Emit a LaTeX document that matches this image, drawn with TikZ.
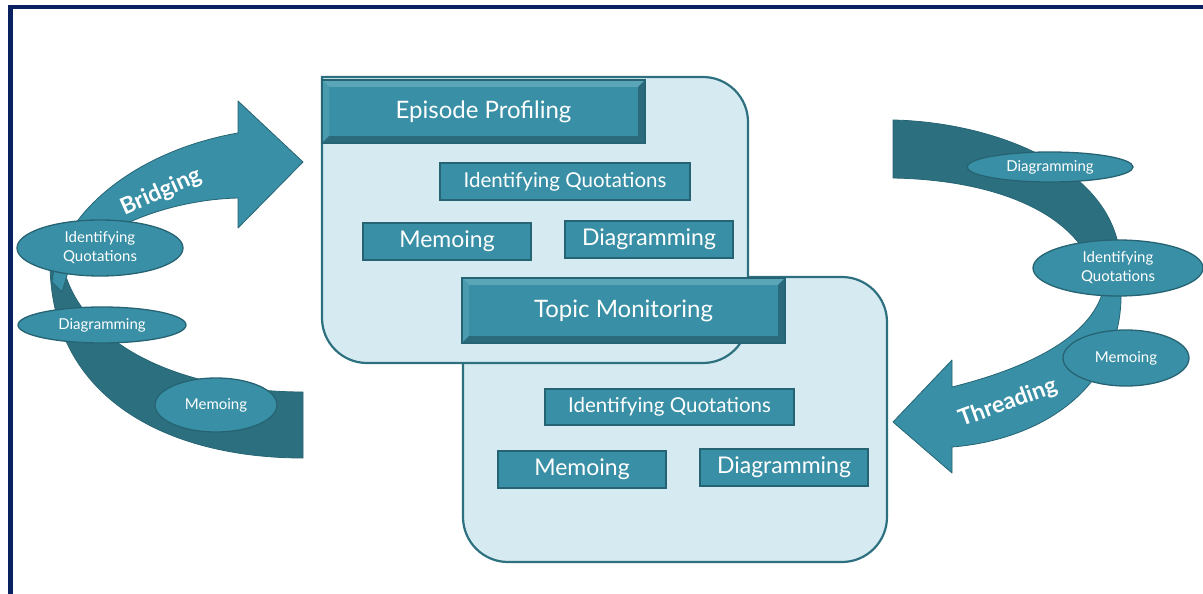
\documentclass[tikz,border=0pt]{standalone}
\usepackage{fontspec}
\setmainfont{Lato}
\usetikzlibrary{shapes.geometric}
\definecolor{tealmain}{HTML}{398FA5}
\definecolor{tealdark}{HTML}{2C7080}
\definecolor{tealline}{HTML}{266473}
\definecolor{bevlight}{HTML}{5AA6B8}
\definecolor{bevmid}{HTML}{4A9BAE}
\definecolor{bevdark}{HTML}{2A6A7A}
\definecolor{boxfill}{HTML}{D6EBF1}
\definecolor{boxline}{HTML}{2D7080}
\definecolor{navy}{HTML}{0A2160}
\tikzset{
  hdr/.style={draw=tealline, line width=1.2pt, fill=tealmain, minimum width=323pt,
    minimum height=64pt, inner sep=0pt, text=white, font=\fontsize{24}{28}\selectfont,
    path picture={
      \fill[bevlight] (path picture bounding box.north west) -- (path picture bounding box.north east)
        -- ([shift={(-7pt,-7pt)}]path picture bounding box.north east)
        -- ([shift={(7pt,-7pt)}]path picture bounding box.north west) -- cycle;
      \fill[bevmid] (path picture bounding box.north west) -- ([shift={(7pt,-7pt)}]path picture bounding box.north west)
        -- ([shift={(7pt,7pt)}]path picture bounding box.south west)
        -- (path picture bounding box.south west) -- cycle;
      \fill[bevdark] (path picture bounding box.north east) -- (path picture bounding box.south east)
        -- ([shift={(-7pt,7pt)}]path picture bounding box.south east)
        -- ([shift={(-7pt,-7pt)}]path picture bounding box.north east) -- cycle;
      \fill[bevdark] (path picture bounding box.south west) -- (path picture bounding box.south east)
        -- ([shift={(-7pt,7pt)}]path picture bounding box.south east)
        -- ([shift={(7pt,7pt)}]path picture bounding box.south west) -- cycle;
    }},
  ibox/.style={draw=tealline, line width=1.5pt, fill=tealmain, minimum height=37pt,
    inner sep=0pt, text=white, font=\fontsize{23}{27}\selectfont},
  iboxs/.style={ibox, font=\fontsize{20.5}{24}\selectfont},
  ell/.style={ellipse, draw=tealline, line width=1.3pt, fill=tealmain, inner sep=0pt,
    text=white, align=center, font=\fontsize{15}{19}\selectfont},
  container/.style={draw=boxline, line width=2.2pt, fill=boxfill},
  bandlight/.style={fill=tealmain, draw=tealline, line width=0.8pt, line join=round},
  banddark/.style={fill=tealdark, draw=tealline, line width=0.8pt, line join=round},
  arrowlabel/.style={text=white, font=\fontsize{23}{27}\selectfont\bfseries, inner sep=0pt}
}
\begin{document}
\begin{tikzpicture}[x=1pt, y=-1pt]
\useasboundingbox (0,0) rectangle (1203,594);
% frame
\draw[navy, line width=4.5pt] (10.5,594) -- (10.5,7) -- (1203,7);

% ---- left curved arrow (Bridging)
\path[banddark] (50,262) .. controls (50,400) and (170,458) .. (303,458) -- (303,392)
   .. controls (190,392) and (80,350) .. (62,262) -- cycle;
\path[bandlight] (52,282) .. controls (60,210) and (140,150) .. (238,133) -- (238,101) -- (303,162)
   -- (238,228) -- (238,198) .. controls (160,200) and (85,235) .. (68,272) -- (62,292) -- cycle;
\node[arrowlabel, rotate=24] (bridging) at (161,192) {Bridging};
\node[ell, minimum width=166pt, minimum height=56pt] (lIQ) at (100,248) {Identifying\\Quotations};
\node[ell, minimum width=168pt, minimum height=36pt] (lDiag) at (102,325) {Diagramming};
\node[ell, minimum width=122pt, minimum height=54pt] (lMemo) at (216,405) {Memoing};

% ---- right curved arrow (Threading)
\path[banddark] (893,120) .. controls (990,122) and (1110,165) .. (1120,255) -- (1090,262)
   .. controls (1070,215) and (1000,180) .. (893,178) -- cycle;
\path[bandlight] (1100,255) -- (1121,255) -- (1121,300) .. controls (1118,390) and (1040,440) .. (952,447)
   -- (952,473) -- (893,422) -- (952,360) -- (952,387)
   .. controls (1040,365) and (1100,330) .. (1105,280) -- cycle;
\node[arrowlabel, rotate=20] (threading) at (1008,403) {Threading};
\node[ell, minimum width=166pt, minimum height=30pt] (rDiag) at (1050,167) {Diagramming};
\node[ell, minimum width=170pt, minimum height=56pt] (rIQ) at (1118,268) {Identifying\\Quotations};
\node[ell, minimum width=126pt, minimum height=56pt] (rMemo) at (1126,358) {Memoing};

% ---- containers
\path[container] (463,277) -- (842,277) .. controls (866.8,277) and (887,297.2) .. (887,322)
  -- (887,517) .. controls (887,541.8) and (866.8,562) .. (842,562)
  -- (508,562) .. controls (483.2,562) and (463,541.8) .. (463,517) -- cycle;
\path[container] (322,77) -- (703,77) .. controls (727.8,77) and (748,97.2) .. (748,122)
  -- (748,318) .. controls (748,342.8) and (727.8,363) .. (703,363)
  -- (367,363) .. controls (342.2,363) and (322,342.8) .. (322,318) -- cycle;

% Episode Profiling
\node[hdr, minimum height=63pt] (ep) at (483.5,111.5) {Episode Profiling};
\node[iboxs, minimum width=250pt] (epIQ) at (565,181.5) {Identifying Quotations};
\node[ibox, minimum width=168pt] (epMemo) at (447,241.5) {Memoing};
\node[ibox, minimum width=168pt] (epDiag) at (649,239.5) {Diagramming};

% Topic Monitoring
\node[hdr, minimum height=65pt] (tm) at (623.5,310.5) {Topic Monitoring};
\node[iboxs, minimum width=249pt, minimum height=36pt] (tmIQ) at (669.5,407) {Identifying Quotations};
\node[ibox, minimum width=168pt] (tmMemo) at (582,469.5) {Memoing};
\node[ibox, minimum width=168pt] (tmDiag) at (784,467.5) {Diagramming};
\end{tikzpicture}
\end{document}
